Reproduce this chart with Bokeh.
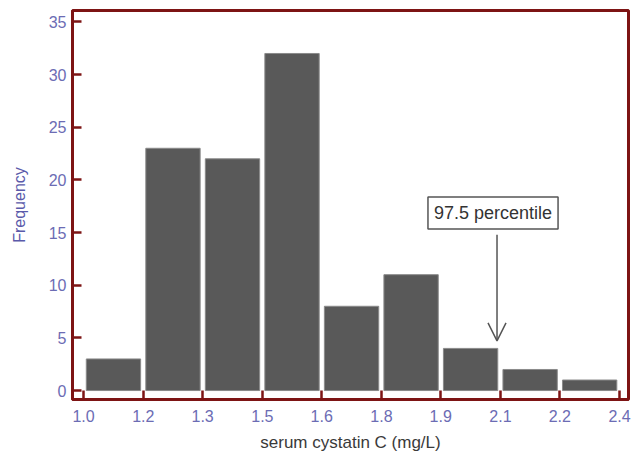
from bokeh.plotting import figure
from bokeh.models import FixedTicker, PrintfTickFormatter, Range1d, Label, Arrow, OpenHead
from bokeh.embed import file_html
from bokeh.resources import INLINE

# data
bin_edges = [1.0, 1.156, 1.311, 1.467, 1.622, 1.778, 1.933, 2.089, 2.244, 2.4]
counts = [3, 23, 22, 32, 8, 11, 4, 2, 1]
y_ticks = [0, 5, 10, 15, 20, 25, 30, 35]
p975 = 2.08
annot_text = "97.5 percentile"

centers = [(a + b) / 2 for a, b in zip(bin_edges[:-1], bin_edges[1:])]
bw = bin_edges[1] - bin_edges[0]

RED = "#7d1414"
TICK_COLOR = "#6c6cb4"

p = figure(width=637, height=454, output_backend="svg", toolbar_location=None,
           x_range=Range1d(0.971, 2.4235), y_range=Range1d(-0.85, 36.08),
           min_border_left=72, min_border_right=9, min_border_top=10, min_border_bottom=53)

p.vbar(x=centers, top=counts, bottom=0, width=bw * 0.91,
       fill_color="#595959", line_color="#8a8a8a", line_width=1)

p.xgrid.visible = False
p.ygrid.visible = False
p.outline_line_color = RED
p.outline_line_width = 3
p.outline_line_alpha = 1
p.background_fill_color = "white"
p.border_fill_color = "white"

for ax in (p.xaxis[0], p.yaxis[0]):
    ax.axis_line_color = RED
    ax.axis_line_width = 3
    ax.major_tick_line_color = RED
    ax.major_tick_line_width = 2.5
    ax.major_tick_in = 9
    ax.major_tick_out = 0
    ax.minor_tick_line_color = None
    ax.major_label_text_font = "Liberation Sans"
    ax.major_label_text_font_size = "16px"
    ax.major_label_text_color = TICK_COLOR

p.xaxis.ticker = FixedTicker(ticks=bin_edges)
p.xaxis.formatter = PrintfTickFormatter(format="%.1f")
p.xaxis.major_label_standoff = 10
p.xaxis.axis_label = "serum cystatin C (mg/L)"
p.xaxis.axis_label_text_font = "Liberation Sans"
p.xaxis.axis_label_text_font_size = "17px"
p.xaxis.axis_label_text_font_style = "normal"
p.xaxis.axis_label_text_color = "#3a3a3a"
p.xaxis.axis_label_standoff = 8

p.yaxis.ticker = FixedTicker(ticks=y_ticks)
p.yaxis.major_label_standoff = 6
p.yaxis.axis_label = "Frequency"
p.yaxis.axis_label_text_font = "Liberation Sans"
p.yaxis.axis_label_text_font_size = "16px"
p.yaxis.axis_label_text_font_style = "normal"
p.yaxis.axis_label_text_color = "#5a5aaa"
p.yaxis.axis_label_standoff = 18

p.add_layout(Arrow(end=OpenHead(size=18, line_color="#555555", line_width=1.5),
                   x_start=p975, y_start=14.78, x_end=p975, y_end=4.72,
                   line_color="#555555", line_width=1.5))

p.add_layout(Label(x=p975, y=16.86, x_offset=-4, text=annot_text,
                   text_align="center", text_baseline="middle",
                   text_font="Liberation Sans", text_font_size="18px", text_color="#333333",
                   border_line_color="#555555", border_line_width=1.5,
                   background_fill_color="white", padding=6))

open("out.html", "w").write(file_html(p, INLINE))
